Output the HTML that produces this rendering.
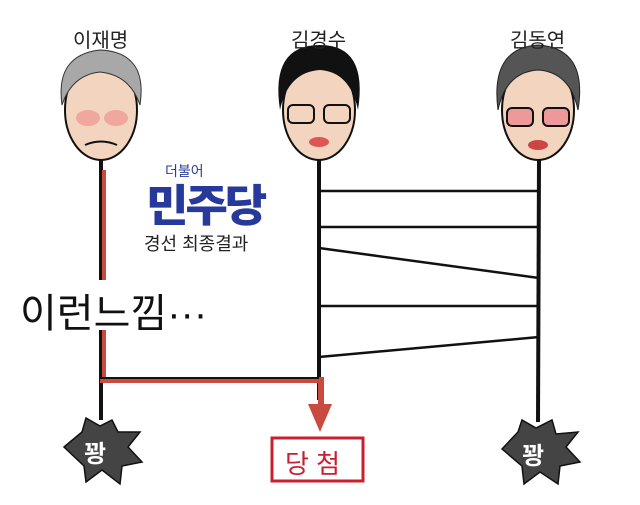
<!DOCTYPE html>
<html><head><meta charset="utf-8"><style>
body{margin:0;width:640px;height:505px;background:#fff;overflow:hidden;position:relative;font-family:"Liberation Sans","Noto Sans CJK KR",sans-serif}
.t{position:absolute;white-space:nowrap}
</style></head><body>
<svg width="640" height="505" style="position:absolute;left:0;top:0">
<line x1="101" y1="160" x2="101" y2="420" stroke="#111" stroke-width="4"/>
<line x1="319" y1="160" x2="319" y2="400" stroke="#111" stroke-width="4"/>
<line x1="539" y1="160" x2="538" y2="422" stroke="#111" stroke-width="4"/>
<g stroke="#111" stroke-width="2.5">
<line x1="319" y1="191" x2="539" y2="191"/>
<line x1="319" y1="227" x2="539" y2="227"/>
<line x1="319" y1="248" x2="539" y2="278"/>
<line x1="319" y1="306" x2="539" y2="306"/>
<line x1="319" y1="357" x2="539" y2="337"/>
</g>
<path d="M103 170 V380 H321 V405" fill="none" stroke="#c94a3e" stroke-width="6"/>
<path d="M101 170 V378 H319" fill="none" stroke="#111" stroke-width="2"/>
<polygon points="308,404 332,404 320,432" fill="#c94a3e"/>
<rect x="90" y="280" width="25" height="50" fill="#fff"/>
<g>
<ellipse cx="101" cy="110" rx="36" ry="50" fill="#f3d4bf" stroke="#111" stroke-width="2"/>
<path d="M62 105 Q55 55 100 50 Q148 52 140 105 Q130 75 100 72 Q72 75 62 105Z" fill="#a8a8a8" stroke="#333"/>
<ellipse cx="88" cy="118" rx="12" ry="8" fill="#e88" opacity=".6"/><ellipse cx="116" cy="118" rx="12" ry="8" fill="#e88" opacity=".6"/>
<path d="M85 145 Q101 138 117 145" stroke="#111" fill="none" stroke-width="2"/>
<ellipse cx="319" cy="110" rx="36" ry="50" fill="#f3d4bf" stroke="#111" stroke-width="2"/>
<path d="M280 110 Q270 45 320 45 Q368 45 358 110 Q350 72 320 70 Q288 72 280 110Z" fill="#111"/>
<rect x="288" y="105" width="26" height="18" rx="5" fill="none" stroke="#111" stroke-width="2"/><rect x="324" y="105" width="26" height="18" rx="5" fill="none" stroke="#111" stroke-width="2"/>
<ellipse cx="319" cy="142" rx="10" ry="5" fill="#d55"/>
<ellipse cx="538" cy="110" rx="36" ry="50" fill="#f3d4bf" stroke="#111" stroke-width="2"/>
<path d="M498 110 Q490 48 538 45 Q588 48 578 110 Q570 72 538 70 Q506 72 498 110Z" fill="#555" stroke="#222"/>
<rect x="507" y="108" width="26" height="18" rx="5" fill="#e99" stroke="#111" stroke-width="2"/><rect x="543" y="108" width="26" height="18" rx="5" fill="#e99" stroke="#111" stroke-width="2"/>
<ellipse cx="538" cy="145" rx="10" ry="5" fill="#c44"/>
</g>
<polygon points="64,447 82,432 86,418 100,426 112,420 118,432 140,432 128,447 142,462 122,466 120,484 102,470 86,482 84,466" fill="#444" stroke="#111" stroke-width="1.5"/>
<polygon points="502,449 518,432 522,420 536,428 552,420 556,434 578,432 566,447 580,462 560,466 558,484 540,472 524,484 522,466" fill="#444" stroke="#111" stroke-width="1.5"/>
<rect x="272" y="438" width="91" height="43" fill="none" stroke="#c8202e" stroke-width="3"/>
</svg>
<div class="t" style="left:73px;top:24px;font-size:20px;color:#222">이재명</div>
<div class="t" style="left:291px;top:24px;font-size:20px;color:#222">김경수</div>
<div class="t" style="left:510px;top:24px;font-size:20px;color:#222">김동연</div>
<div class="t" style="left:165px;top:161px;font-size:14px;color:#2a3d9a">더불어</div>
<div class="t" style="left:146px;top:170px;font-size:44px;font-weight:900;color:#27399a;letter-spacing:-3px;transform:scaleX(1.05);transform-origin:left">민주당</div>
<div class="t" style="left:144px;top:230px;font-size:18px;color:#222">경선 최종결과</div>
<div class="t" style="left:20px;top:281px;font-size:40px;color:#111">이런느낌···</div>
<div class="t" style="left:84px;top:434px;font-size:24px;color:#fff;font-weight:bold">꽝</div>
<div class="t" style="left:522px;top:436px;font-size:24px;color:#fff;font-weight:bold">꽝</div>
<div class="t" style="left:285px;top:444px;font-size:26px;color:#c8202e">당 첨</div>
</body></html>
